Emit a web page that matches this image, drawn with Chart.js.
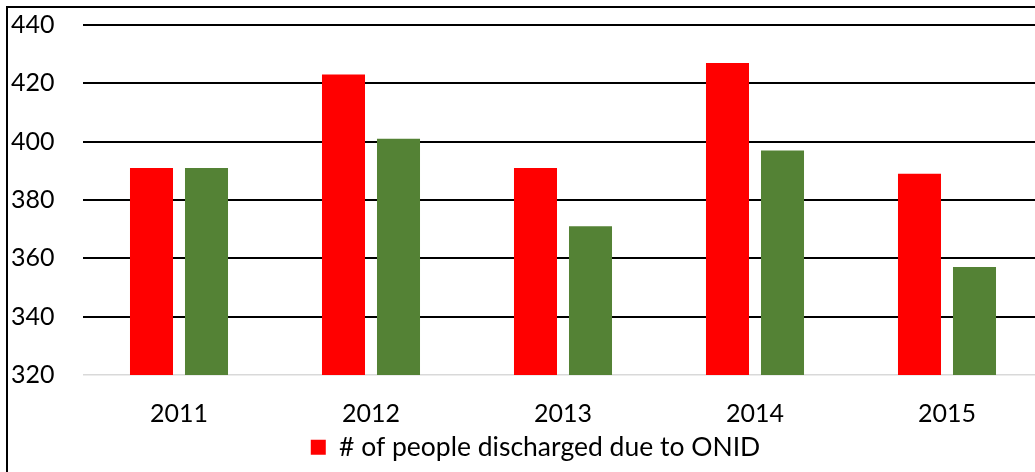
<!DOCTYPE html>
<html>
<head>
<meta charset="utf-8">
<script src="https://cdn.jsdelivr.net/npm/chart.js@4.4.1/dist/chart.umd.min.js"></script>
<style>
  html, body { margin: 0; padding: 0; background: #fff; overflow: hidden; width: 1035px; height: 472px; }
  #frame { position: absolute; left: 6px; top: 6px; border-left: 2px solid #000; border-top: 2px solid #000; width: 1045px; height: 480px; }
  canvas { display: block; }
</style>
</head>
<body>
<div id="frame"><canvas id="c" width="1035" height="464"></canvas></div>
<script>
const categories = ['2011', '2012', '2013', '2014', '2015'];
const dischargedONID = [391, 423, 391, 427, 389];
const secondSeries = [391, 401, 371, 397, 357];
const yTicks = [320, 340, 360, 380, 400, 420, 440];
const seriesLabels = ['# of people discharged due to ONID', 'Series 2'];

Chart.defaults.font.family = 'Lato, "Open Sans", sans-serif';
Chart.defaults.color = '#000';

const legendShift = {
  id: 'legendShift',
  afterLayout(chart) {
    if (chart.legend) { chart.legend.left += 8.5; chart.legend.right += 8.5; }
  }
};

new Chart(document.getElementById('c'), {
  type: 'bar',
  data: {
    labels: categories,
    datasets: [
      { label: seriesLabels[0], data: dischargedONID, backgroundColor: '#FF0000', categoryPercentage: 0.573, barPercentage: 0.782 },
      { label: seriesLabels[1], data: secondSeries, backgroundColor: '#548235', categoryPercentage: 0.573, barPercentage: 0.782 }
    ]
  },
  plugins: [legendShift],
  options: {
    responsive: false,
    animation: false,
    devicePixelRatio: 1,
    layout: { padding: { top: 17, left: 3, right: 0, bottom: 1.5 } },
    plugins: {
      tooltip: { enabled: false },
      legend: {
        position: 'bottom',
        labels: {
          filter: (item) => item.datasetIndex === 0,
          boxWidth: 15, boxHeight: 15, padding: 6,
          font: { size: 26.5 }, color: '#000'
        }
      }
    },
    scales: {
      x: {
        afterFit: (scale) => { scale.height = 53; },
        grid: { display: false, drawTicks: false },
        border: { display: false },
        ticks: { padding: 24, font: { size: 25 }, color: '#000', maxRotation: 0 }
      },
      y: {
        min: yTicks[0], max: yTicks[yTicks.length - 1],
        afterBuildTicks: (scale) => { scale.ticks = yTicks.map(v => ({ value: v })); },
        afterFit: (scale) => { scale.width = 72; },
        border: { display: false },
        grid: {
          drawTicks: false,
          color: (ctx) => ctx.tick && ctx.tick.value === 320 ? '#d9d9d9' : '#000',
          lineWidth: (ctx) => ctx.tick && ctx.tick.value === 320 ? 1.5 : 2
        },
        ticks: { padding: 0, crossAlign: 'far', font: { size: 25 }, color: '#000' }
      }
    }
  }
});
</script>
</body>
</html>
